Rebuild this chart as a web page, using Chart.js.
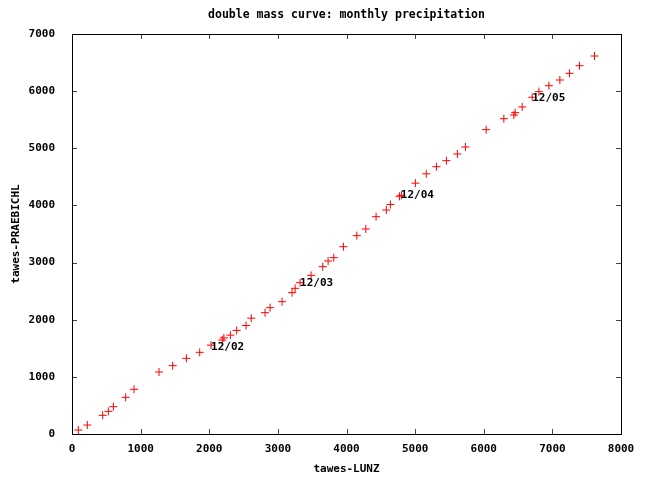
<!DOCTYPE html>
<html>
<head>
<meta charset="utf-8">
<script src="https://cdn.jsdelivr.net/npm/chart.js@4"></script>
<style>
  html, body { margin: 0; padding: 0; background: #fff; }
</style>
</head>
<body>
<canvas id="myChart" width="653" height="477"></canvas>
<script>
// monthly cumulative precipitation
const lunz = [92, 223, 447, 530, 603, 782, 904, 1268, 1467, 1667, 1861, 2026, 2189, 2213, 2308, 2400,
    2536, 2612, 2813, 2886, 3061, 3207, 3251, 3324, 3484, 3654, 3732, 3815, 3955, 4150, 4281, 4431,
    4580, 4640, 4771, 4800, 5004, 5162, 5310, 5456, 5616, 5733, 6035, 6293, 6439, 6458, 6560, 6706,
    6803, 6949, 7109, 7249, 7395, 7614];
const praebichl = [70, 157, 327, 397, 478, 642, 782, 1085, 1196, 1324, 1429, 1555, 1645, 1682, 1730, 1812,
    1898, 2027, 2123, 2211, 2316, 2473, 2549, 2648, 2776, 2928, 3028, 3086, 3278, 3471, 3588, 3803,
    3920, 4017, 4160, 4177, 4390, 4553, 4678, 4783, 4900, 5023, 5326, 5518, 5583, 5623, 5723, 5893,
    5991, 6096, 6195, 6312, 6445, 6615];

const markText = ['12/02', '12/03', '12/04', '12/05'];
const markX = [2026, 3324, 4792, 6706];
const markY = [1528, 2637, 4177, 5886];

const titleText = 'double mass curve: monthly precipitation';
const xMax = 8000;
const yMax = 7000;
const tickStep = 1000;

const fontFam = "'DejaVu Sans Mono', monospace";

let points = [];
for (let i = 0; i < lunz.length; i++) {
    points.push({x: lunz[i], y: praebichl[i]});
}

// gnuplot style frame with small inward ticks on all four sides, title over the plot area
const frame = {
    id: 'frame',
    afterDatasetsDraw(chart) {
        const ctx = chart.ctx;
        const a = chart.chartArea;
        const xs = chart.scales.x;
        const ys = chart.scales.y;
        ctx.save();
        ctx.lineWidth = 1;
        ctx.strokeStyle = '#444';
        ctx.beginPath();
        for (let v = tickStep; v < xMax; v += tickStep) {
            const px = Math.round(xs.getPixelForValue(v)) + 0.5;
            ctx.moveTo(px, a.bottom); ctx.lineTo(px, a.bottom - 5);
            ctx.moveTo(px, a.top); ctx.lineTo(px, a.top + 5);
        }
        for (let v = tickStep; v < yMax; v += tickStep) {
            const py = Math.round(ys.getPixelForValue(v)) + 0.5;
            ctx.moveTo(a.left, py); ctx.lineTo(a.left + 5, py);
            ctx.moveTo(a.right, py); ctx.lineTo(a.right - 5, py);
        }
        ctx.stroke();
        ctx.strokeStyle = '#000';
        ctx.strokeRect(Math.round(a.left) + 0.5, Math.round(a.top) + 0.5,
            Math.round(a.right - a.left), Math.round(a.bottom - a.top));

        ctx.fillStyle = '#000';
        ctx.font = 'bold 11px ' + fontFam;
        ctx.textAlign = 'left';
        ctx.textBaseline = 'middle';
        for (let i = 0; i < markText.length; i++) {
            ctx.fillText(markText[i], xs.getPixelForValue(markX[i]), ys.getPixelForValue(markY[i]));
        }

        ctx.font = 'bold 11.5px ' + fontFam;
        ctx.textAlign = 'center';
        ctx.fillText(titleText, (a.left + a.right) / 2, 15);
        ctx.restore();
    }
};

const ctx = document.getElementById('myChart');

new Chart(ctx, {
    type: 'scatter',
    data: {
        datasets: [{
            data: points,
            pointStyle: 'cross',
            pointRadius: 4,
            borderWidth: 1,
            borderColor: 'rgb(255,0,0)',
            backgroundColor: 'rgb(255,0,0)'
        }]
    },
    options: {
        responsive: false,
        animation: false,
        events: [],
        layout: { padding: { left: 0, right: 32, top: 34, bottom: 0 } },
        plugins: {
            legend: { display: false },
            tooltip: { enabled: false },
            title: { display: false }
        },
        scales: {
            x: {
                type: 'linear',
                min: 0,
                max: xMax,
                grid: { display: false },
                border: { display: false },
                ticks: {
                    stepSize: tickStep,
                    padding: 1,
                    color: '#000',
                    maxRotation: 0,
                    font: { family: fontFam, size: 11, weight: 'bold' },
                    callback: v => String(v)
                },
                title: {
                    display: true,
                    text: 'tawes-LUNZ',
                    color: '#000',
                    font: { family: fontFam, size: 11, weight: 'bold' },
                    padding: { top: 0, bottom: 1 }
                },
                afterFit: s => { s.height = 43; }
            },
            y: {
                type: 'linear',
                min: 0,
                max: yMax,
                grid: { display: false },
                border: { display: false },
                ticks: {
                    stepSize: tickStep,
                    padding: 9,
                    color: '#000',
                    font: { family: fontFam, size: 11, weight: 'bold' },
                    callback: v => String(v)
                },
                title: {
                    display: true,
                    text: 'tawes-PRAEBICHL',
                    color: '#000',
                    font: { family: fontFam, size: 11, weight: 'bold' },
                    padding: { top: 10, bottom: 0 }
                },
                afterFit: s => { s.width = 72; }
            }
        }
    },
    plugins: [frame]
});
</script>
</body>
</html>
